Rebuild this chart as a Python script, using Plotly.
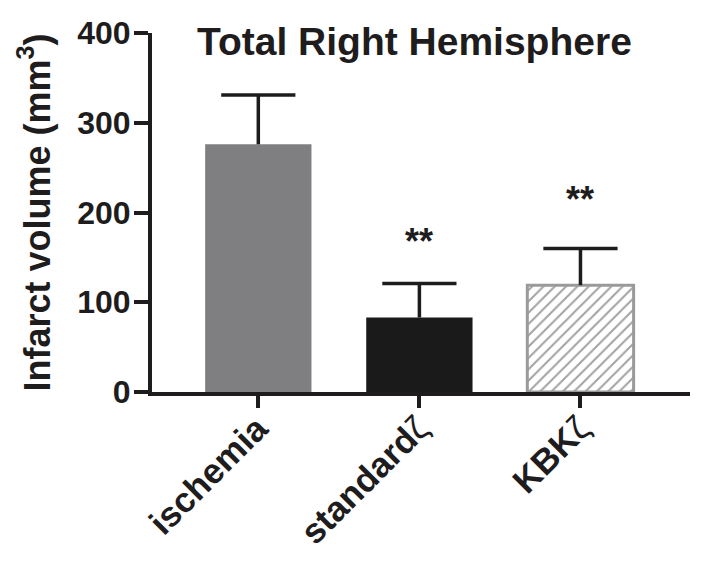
import plotly.graph_objects as go

categories = ["ischemia", "standard<span style=\"font-weight:normal\">ζ</span>", "KBK<span style=\"font-weight:normal\">ζ</span>"]
means = [276, 83, 119]
sd_upper = [55, 38, 41]
sig_labels = ["", "**", "**"]
sig_y = [None, 168, 215]
y_ticks = [0, 100, 200, 300, 400]

x_pos = [0, 1, 2]
FONT = "Liberation Sans, Arial, sans-serif"
INK = "#1e1c1d"

fig = go.Figure()

fig.add_trace(go.Bar(
    x=x_pos, y=means, width=0.66,
    marker=dict(
        color=["#7f7f82", "#1b1a1b", "#ffffff"],
        line=dict(color=["#7f7f82", "#1b1a1b", "#9a9a9a"], width=[0, 0, 3]),
        pattern=dict(shape=["", "", "/"], fgcolor="#3e3e3e", bgcolor="#ffffff",
                     size=8, solidity=0.25, fillmode="overlay"),
    ),
    error_y=dict(type="data", symmetric=False, array=sd_upper,
                 arrayminus=[0, 0, 0], color=INK, thickness=3.5, width=0),
    showlegend=False, hoverinfo="skip",
))

# error bar caps
fig.add_trace(go.Scatter(
    x=x_pos, y=[m + s for m, s in zip(means, sd_upper)], mode="markers",
    marker=dict(symbol="line-ew", size=53, color=INK, line=dict(color=INK, width=3.5)),
    showlegend=False, hoverinfo="skip",
))

for xi, lab, yy in zip(x_pos, sig_labels, sig_y):
    if lab:
        fig.add_annotation(x=xi, y=yy, text="<b>" + lab + "</b>", showarrow=False,
                           font=dict(family=FONT, size=36, color=INK),
                           xanchor="center", yanchor="middle")

fig.add_annotation(x=0.488, y=0.975, xref="paper", yref="paper",
                   text="<b>Total Right Hemisphere</b>", showarrow=False,
                   font=dict(family=FONT, size=39, color=INK),
                   xanchor="center", yanchor="middle")

fig.update_layout(
    width=699, height=559,
    margin=dict(l=144, r=17, t=25, b=175),
    paper_bgcolor="white", plot_bgcolor="white",
    font=dict(family=FONT, color=INK),
    xaxis=dict(
        range=[-0.66, 2.68], tickmode="array", tickvals=x_pos, ticktext=categories,
        tickangle=-45, tickfont=dict(family=FONT, size=35, color=INK, weight="bold"),
        showline=True, linecolor=INK, linewidth=4, ticks="outside", ticklen=12,
        tickwidth=4, tickcolor=INK, showgrid=False, zeroline=False, automargin=False,
        ticklabelstandoff=-14, ticklabelshift=-1,
    ),
    yaxis=dict(
        range=[0, 400], tickvals=y_ticks, tickfont=dict(family=FONT, size=32, color=INK, weight="bold"),
        showline=True, linecolor=INK, linewidth=4, ticks="outside", ticklen=14,
        tickwidth=4, tickcolor=INK, showgrid=False, zeroline=False, automargin=False,
        ticklabelstandoff=-3,
        title=dict(text="<b>Infarct volume (mm<sup>3</sup>)</b>",
                   font=dict(family=FONT, size=36, color=INK), standoff=17),
    ),
)

fig.write_html("out.html")
